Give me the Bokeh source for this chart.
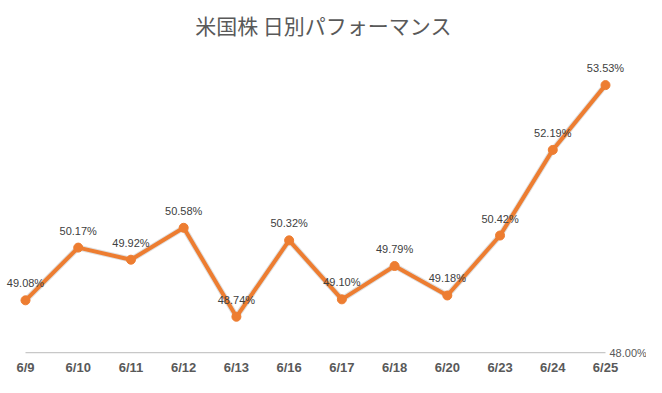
from bokeh.plotting import figure
from bokeh.models import ColumnDataSource, FixedTicker, Range1d
from bokeh.core.properties import value
from bokeh.embed import file_html
from bokeh.resources import INLINE

categories = ["6/9", "6/10", "6/11", "6/12", "6/13", "6/16", "6/17", "6/18", "6/20", "6/23", "6/24", "6/25"]
values = [49.08, 50.17, 49.92, 50.58, 48.74, 50.32, 49.10, 49.79, 49.18, 50.42, 52.19, 53.53]
axis_min = 48.0
title_text = "米国株 日別パフォーマンス"

n = len(categories)
idx = list(range(n))
src = ColumnDataSource(dict(x=idx, y=values, lab=[f"{v:.2f}%" for v in values]))
grid_src = ColumnDataSource(dict(x0=[idx[0]], x1=[idx[-1]], y0=[axis_min], y1=[axis_min]))

p = figure(width=646, height=377, output_backend="svg", toolbar_location=None,
           x_range=Range1d(-0.4741, n - 1 + 0.7776),
           y_range=Range1d(47.8976, 54.370),
           x_axis_location="below", y_axis_location=None,
           min_border_left=0, min_border_right=0, min_border_top=44, min_border_bottom=17)

p.title.text = title_text
p.title.align = "center"
p.title.text_font = "Noto Sans CJK JP"
p.title.text_font_size = "21px"
p.title.text_font_style = "normal"
p.title.text_color = "#595959"

p.outline_line_color = None
p.xgrid.visible = False
p.ygrid.visible = False

xa = p.xaxis[0]
xa.ticker = FixedTicker(ticks=idx)
xa.major_label_overrides = {i: c for i, c in zip(idx, categories)}
xa.axis_line_color = None
xa.major_tick_line_color = None
xa.minor_tick_line_color = None
xa.major_tick_out = 0
xa.major_label_standoff = 2
xa.major_label_text_font = "Liberation Sans"
xa.major_label_text_font_size = "13px"
xa.major_label_text_font_style = "bold"
xa.major_label_text_color = "#595959"

# baseline gridline at the axis minimum, spanning the categories
p.segment(x0="x0", x1="x1", y0="y0", y1="y1", source=grid_src,
          line_color="#c8c8c8", line_width=1.2)
p.text(x=[idx[-1]], y=[axis_min], text=[f"{axis_min:.2f}%"], x_offset=4,
       text_align="left", text_baseline="middle", text_font_size="11px",
       text_color="#595959", text_font=value("Liberation Sans"))

p.line("x", "y", source=src, line_color="#7f7f7f", line_width=6, line_alpha=0.25)
p.line("x", "y", source=src, line_color="#ED7D31", line_width=4)
p.scatter("x", "y", source=src, size=9, fill_color="#ED7D31", line_color="#ED7D31")
p.text("x", "y", text="lab", source=src, y_offset=-17, text_align="center",
       text_baseline="middle", text_font_size="11px", text_color="#404040",
       text_font=value("Liberation Sans"))

open("out.html", "w").write(file_html(p, INLINE))
